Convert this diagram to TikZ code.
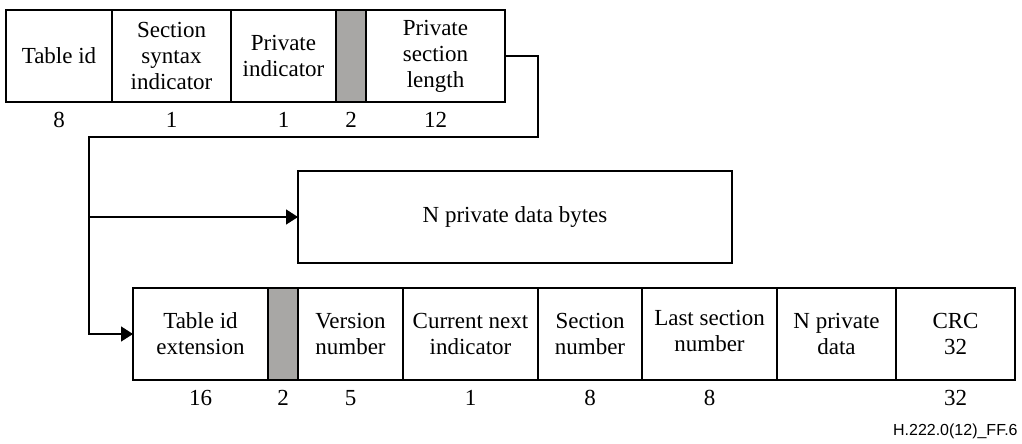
\documentclass[tikz,border=0pt]{standalone}
\usepackage{fontspec}
\setmainfont{Liberation Serif}
\newfontfamily\figidfont{Liberation Sans}
\usetikzlibrary{arrows.meta, positioning, calc}
\definecolor{fieldgray}{RGB}{168,167,165}

\begin{document}
\begin{tikzpicture}[
    x=0.5pt, y=-0.5pt,
    >={Triangle[length=6pt, width=7.5pt]},
    every node/.style={font=\fontsize{11.5}{13}\selectfont},
    field/.style={draw, line width=0.7pt, outer sep=0pt, inner sep=1pt, align=center, minimum height=46pt},
    reserved/.style={field, fill=fieldgray, minimum width=15pt},
    bits/.style={inner sep=0pt},
    link/.style={draw, line width=0.7pt, ->}
]
    \useasboundingbox (0,0) rectangle (1022,444);

    % ==================== TOP ROW ====================
    \node[field, anchor=north west, minimum width=53pt] (tid) at (6,10) {Table id};
    \node[field, minimum width=59.5pt, right=0pt of tid] (ssi) {Section\\syntax\\indicator};
    \node[field, minimum width=52.5pt, right=0pt of ssi] (pind) {Private\\indicator};
    \node[reserved, right=0pt of pind] (resa) {};
    \node[field, minimum width=69.5pt, right=0pt of resa] (tlen) {Private\\section\\length};

    % Bit counts
    \node[bits, below=5pt of tid] (btid) {8};
    \node[bits, below=5pt of ssi] (bssi) {1};
    \node[bits, below=5pt of pind] (bpind) {1};
    \node[bits, below=5pt of resa] (bresa) {2};
    \node[bits, below=5pt of tlen] (btlen) {12};

    % ==================== DATA BYTES ====================
    \node[field, anchor=north west, minimum width=217pt] (bytes) at (298,171) {N private data bytes};

    % ==================== BOTTOM ROW ====================
    \node[field, anchor=north west, minimum width=67.5pt] (tidx) at (133,288) {Table id\\extension};
    \node[reserved, right=0pt of tidx] (resb) {};
    \node[field, minimum width=52.5pt, right=0pt of resb] (vnum) {Version\\number};
    \node[field, minimum width=67.5pt, right=0pt of vnum] (cni) {Current next\\indicator};
    \node[field, minimum width=52pt, right=0pt of cni] (snum) {Section\\number};
    \node[field, minimum width=67.5pt, right=0pt of snum] (lsn) {Last section\\number\rule[-3pt]{0pt}{0pt}};
    \node[field, minimum width=59.5pt, right=0pt of lsn] (pdata) {N private\\data};
    \node[field, minimum width=59.5pt, right=0pt of pdata] (crc) {CRC\\32};

    % Bit counts
    \node[bits, below=5pt of tidx] (btidx) {16};
    \node[bits, below=5pt of resb] (bresb) {2};
    \node[bits, below=5pt of vnum] (bvnum) {5};
    \node[bits, below=5pt of cni] (bcni) {1};
    \node[bits, below=5pt of snum] (bsnum) {8};
    \node[bits, below=5pt of lsn] (blsn) {8};
    \node[bits, below=5pt of crc] (bcrc) {32};

    % ==================== CONNECTORS ====================
    \coordinate (turn) at (89,137);
    \path[link] (tlen.east) -- ++(33,0) |- (turn) |- (tidx.west);
    \path[link] (turn |- bytes.west) -- (bytes.west);

    % Figure id
    \node[anchor=east, inner sep=0pt, font=\figidfont\fontsize{8}{9.6}\selectfont] (figid) at (1018,431) {H.222.0(12)\_FF.6};
\end{tikzpicture}
\end{document}
